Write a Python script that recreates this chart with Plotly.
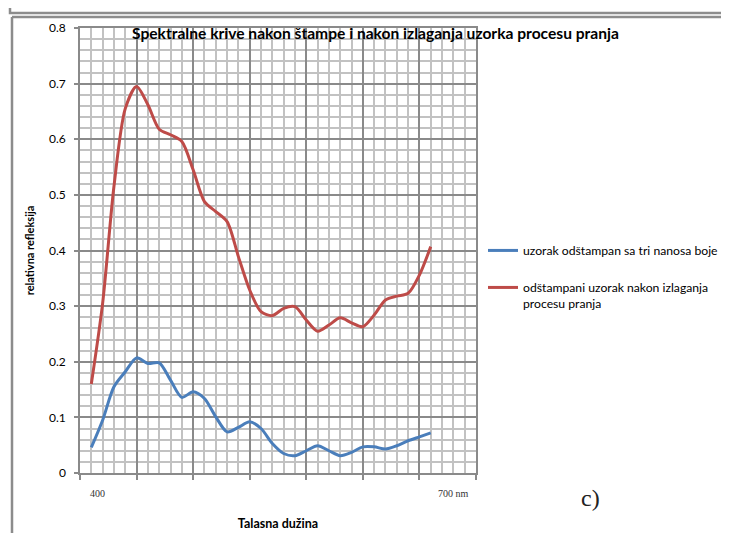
import plotly.graph_objects as go

# ---- data ----
wavelength = list(range(400, 701, 10))
blue_vals = [0.046, 0.095, 0.155, 0.182, 0.207, 0.197, 0.198, 0.167, 0.136, 0.146,
             0.134, 0.101, 0.074, 0.082, 0.092, 0.080, 0.053, 0.035, 0.031, 0.040,
             0.049, 0.040, 0.031, 0.037, 0.047, 0.047, 0.043, 0.049, 0.058, 0.065,
             0.072]
red_vals = [0.160, 0.305, 0.515, 0.655, 0.695, 0.662, 0.618, 0.608, 0.596, 0.545,
            0.488, 0.470, 0.452, 0.389, 0.329, 0.290, 0.283, 0.296, 0.299, 0.275,
            0.255, 0.266, 0.279, 0.270, 0.263, 0.284, 0.311, 0.318, 0.323, 0.356,
            0.407]
blue_name = "uzorak odštampan sa tri nanosa boje"
red_name = "odštampani uzorak nakon izlaganja<br>procesu pranja"
title_text = "Spektralne krive nakon štampe i nakon izlaganja uzorka procesu pranja"
y_title = "relativna refleksija"
x_title = "Talasna dužina"
x_label_left = "400"
x_label_right = "700 nm"
panel_label = "c)"

# ---- geometry (px) ----
W, H = 729, 533
OFF = 8  # page body margin
PL, PR, PT, PB = 80 - OFF, 476 - OFF, 28 - OFF, 473 - OFF


def px(x):
    return (x - OFF - PL) / (PR - PL)


def py(y):
    return (PB - (y - OFF)) / (PB - PT)


font_main = "Lato, 'Liberation Sans', Arial, sans-serif"
font_serif = "'Liberation Serif', 'DejaVu Serif', serif"

fig = go.Figure()
fig.add_trace(go.Scatter(x=wavelength, y=blue_vals, mode="lines", name=blue_name,
                         line=dict(color="#4a7ebb", width=3, shape="spline", smoothing=0.8),
                         legendgroup="a"))
fig.add_trace(go.Scatter(x=wavelength, y=red_vals, mode="lines", name=red_name,
                         line=dict(color="#be4b48", width=3, shape="spline", smoothing=0.8),
                         legendgroup="b"))

major_col = "#8a8a8a"
minor_col = "#c2c2c2"

fig.update_xaxes(range=[390, 740], tick0=390, dtick=50, showticklabels=False,
                 ticks="outside", ticklen=5, tickcolor=major_col, tickwidth=1.5,
                 showgrid=True, gridcolor=major_col, gridwidth=1.5,
                 minor=dict(dtick=10, tick0=390, showgrid=True, gridcolor=minor_col, gridwidth=1.5),
                 showline=True, linecolor=major_col, linewidth=1.5, mirror=True,
                 zeroline=False,
                 title=dict(text="<b>" + x_title + "</b>",
                            font=dict(family=font_main, size=12.5, color="#000"),
                            standoff=40))
fig.update_yaxes(range=[0, 0.8], tick0=0, dtick=0.1,
                 ticks="outside", ticklen=4, tickcolor=major_col, tickwidth=1.5,
                 ticklabelstandoff=6,
                 tickfont=dict(family=font_main, size=12, color="#000"),
                 showgrid=True, gridcolor=major_col, gridwidth=1.5,
                 minor=dict(dtick=0.02, showgrid=True, gridcolor=minor_col, gridwidth=1.5),
                 showline=True, linecolor=major_col, linewidth=1.5, mirror=True,
                 zeroline=False,
                 title=dict(text="<b>" + y_title + "</b>",
                            font=dict(family=font_main, size=11, color="#000"),
                            standoff=12))

shapes = [
    # frame of the chart above (bottom part)
    dict(type="rect", xref="paper", yref="paper", x0=px(10), x1=px(724), y0=py(-10), y1=py(13),
         line=dict(color="#8c8c8c", width=2.5), fillcolor="rgba(0,0,0,0)", layer="above"),
    # frame of this chart
    dict(type="line", xref="paper", yref="paper", x0=px(12), x1=px(745), y0=py(17), y1=py(17),
         line=dict(color="#8c8c8c", width=2.5)),
    dict(type="line", xref="paper", yref="paper", x0=px(12), x1=px(12), y0=py(17), y1=py(560),
         line=dict(color="#8c8c8c", width=2.5)),
]

annotations = [
    dict(text="<b>" + title_text + "</b>", xref="paper", yref="paper", x=px(375), y=py(33),
         showarrow=False, font=dict(family=font_main, size=15.6, color="#000"),
         xanchor="center", yanchor="middle"),
    dict(text=x_label_left, xref="paper", yref="paper", x=px(97), y=py(493), showarrow=False,
         font=dict(family=font_serif, size=10, color="#333"), xanchor="center", yanchor="middle"),
    dict(text=x_label_right, xref="paper", yref="paper", x=px(453), y=py(493), showarrow=False,
         font=dict(family=font_serif, size=10, color="#333"), xanchor="center", yanchor="middle"),
    dict(text=panel_label, xref="paper", yref="paper", x=px(590), y=py(498), showarrow=False,
         font=dict(family=font_serif, size=24, color="#222"), xanchor="center", yanchor="middle"),
]

fig.update_layout(
    width=W, height=H,
    margin=dict(l=PL, r=W - PR, t=PT, b=H - PB, autoexpand=False),
    paper_bgcolor="white", plot_bgcolor="white",
    showlegend=True,
    legend=dict(x=px(483), y=py(236), xanchor="left", yanchor="top",
                font=dict(family=font_main, size=12.2, color="#000"),
                bgcolor="rgba(0,0,0,0)", traceorder="grouped", tracegroupgap=18,
                valign="top", itemwidth=30),
    shapes=shapes, annotations=annotations,
)

fig.write_html("out.html")
